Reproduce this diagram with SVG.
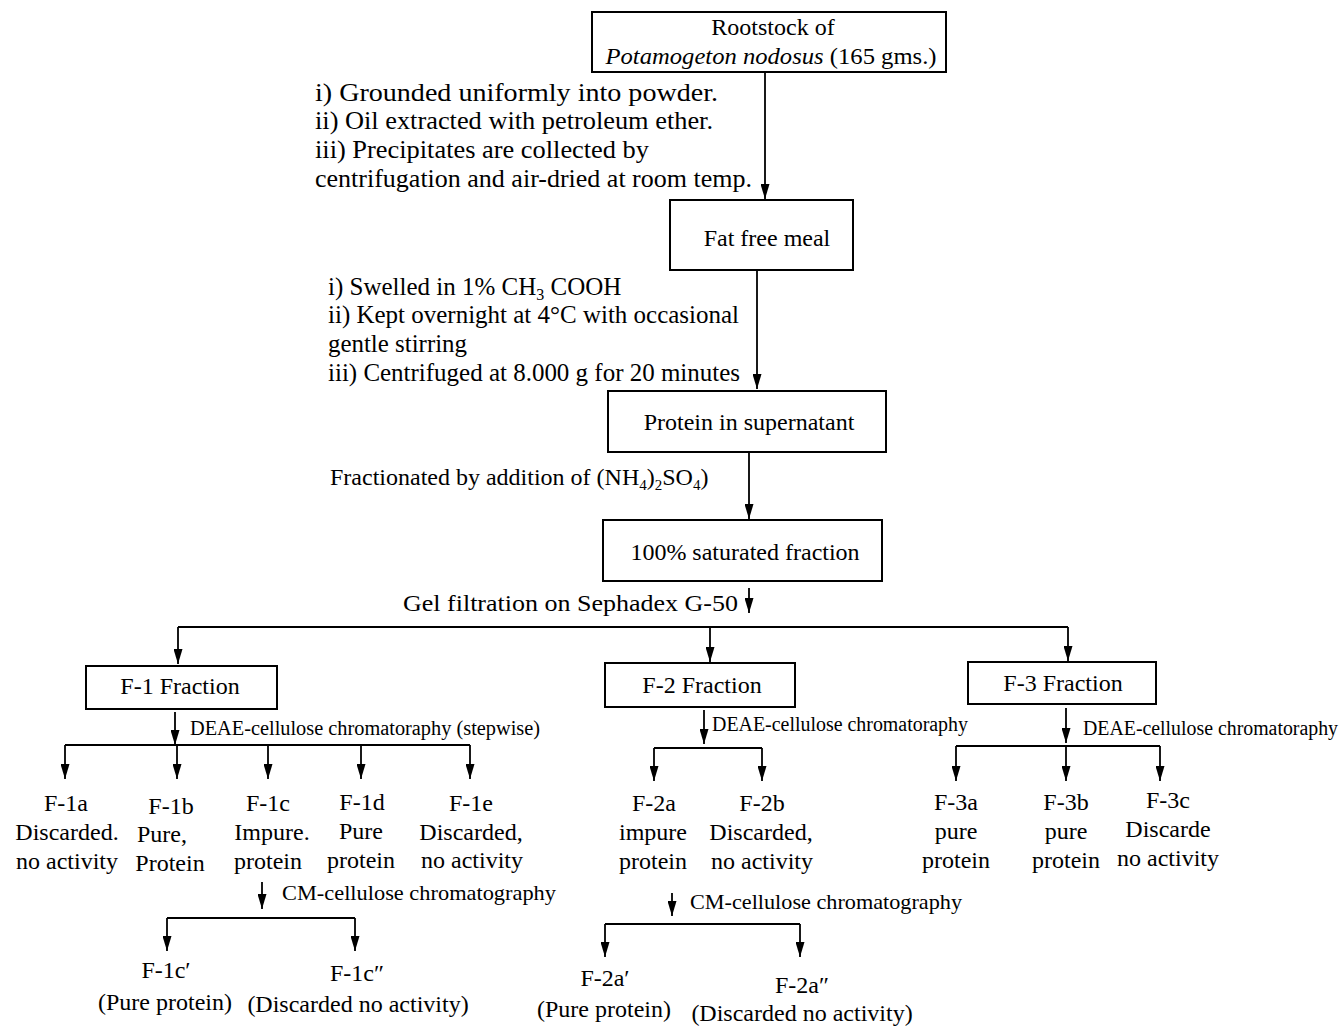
<svg xmlns="http://www.w3.org/2000/svg" width="1344" height="1026" viewBox="0 0 1344 1026">
<style>
text{font-family:"Liberation Serif","Times New Roman",serif;font-size:24px;fill:#000}
.a{font-size:25px}
.s{font-size:20px}
.m{font-size:22px}
.c{text-anchor:middle}
.box{fill:#fff;stroke:#000;stroke-width:2}
.ln{fill:none;stroke:#000;stroke-width:1.8}
.ar{fill:none;stroke:#000;stroke-width:1.8;marker-end:url(#ah)}
</style>
<defs>
<marker id="ah" markerUnits="userSpaceOnUse" markerWidth="15" markerHeight="9" viewBox="0 0 15 9" refX="15" refY="4.5" orient="auto">
<path d="M0,0 L15,4.5 L0,9 z" fill="#000"/>
</marker>
</defs>
<rect width="1344" height="1026" fill="#fff"/>

<g id="connectors">
<line class="ar" x1="765" y1="72" x2="765" y2="199"/>
<line class="ar" x1="757" y1="270" x2="757" y2="389"/>
<line class="ar" x1="749" y1="452" x2="749" y2="519"/>
<line class="ar" x1="749" y1="588" x2="749" y2="613"/>
<line class="ln" x1="178" y1="627" x2="1068" y2="627"/>
<line class="ar" x1="178" y1="627" x2="178" y2="664"/>
<line class="ar" x1="710" y1="627" x2="710" y2="662"/>
<line class="ar" x1="1068" y1="627" x2="1068" y2="661"/>
<line class="ar" x1="175" y1="712" x2="175" y2="745"/>
<line class="ln" x1="65" y1="745" x2="470" y2="745"/>
<line class="ar" x1="65" y1="745" x2="65" y2="779"/>
<line class="ar" x1="177" y1="745" x2="177" y2="779"/>
<line class="ar" x1="268" y1="745" x2="268" y2="779"/>
<line class="ar" x1="361" y1="745" x2="361" y2="779"/>
<line class="ar" x1="470" y1="745" x2="470" y2="779"/>
<line class="ar" x1="704" y1="710" x2="704" y2="744"/>
<line class="ln" x1="654" y1="748" x2="762" y2="748"/>
<line class="ar" x1="654" y1="748" x2="654" y2="781"/>
<line class="ar" x1="762" y1="748" x2="762" y2="781"/>
<line class="ar" x1="1066" y1="708" x2="1066" y2="743"/>
<line class="ln" x1="956" y1="746" x2="1160" y2="746"/>
<line class="ar" x1="956" y1="746" x2="956" y2="781"/>
<line class="ar" x1="1066" y1="746" x2="1066" y2="781"/>
<line class="ar" x1="1160" y1="746" x2="1160" y2="781"/>
<line class="ar" x1="262" y1="882" x2="262" y2="909"/>
<line class="ln" x1="167" y1="918" x2="355" y2="918"/>
<line class="ar" x1="167" y1="918" x2="167" y2="951"/>
<line class="ar" x1="355" y1="918" x2="355" y2="951"/>
<line class="ar" x1="672" y1="893" x2="672" y2="916"/>
<line class="ln" x1="605" y1="924" x2="800" y2="924"/>
<line class="ar" x1="605" y1="924" x2="605" y2="957"/>
<line class="ar" x1="800" y1="924" x2="800" y2="957"/>
</g>

<g id="labels">
<text class="a" x="315" y="101" textLength="403" lengthAdjust="spacingAndGlyphs">i) Grounded uniformly into powder.</text>
<text class="a" x="315" y="129" textLength="398" lengthAdjust="spacingAndGlyphs">ii) Oil extracted with petroleum ether.</text>
<text class="a" x="315" y="158" textLength="334" lengthAdjust="spacingAndGlyphs">iii) Precipitates are collected by</text>
<text class="a" x="315" y="187" textLength="437" lengthAdjust="spacingAndGlyphs">centrifugation and air-dried at room temp.</text>
<text class="a" x="328" y="295">i) Swelled in 1% CH<tspan font-size="16" dy="5">3</tspan><tspan dy="-5"> COOH</tspan></text>
<text class="a" x="328" y="323" textLength="411" lengthAdjust="spacingAndGlyphs">ii) Kept overnight at 4°C with occasional</text>
<text class="a" x="328" y="352" textLength="139" lengthAdjust="spacingAndGlyphs">gentle stirring</text>
<text class="a" x="328" y="381" textLength="412" lengthAdjust="spacingAndGlyphs">iii) Centrifuged at 8.000 g for 20 minutes</text>
<text x="330" y="485">Fractionated by addition of (NH<tspan font-size="15" dy="5">4</tspan><tspan dy="-5">)</tspan><tspan font-size="15" dy="5">2</tspan><tspan dy="-5">SO</tspan><tspan font-size="15" dy="5">4</tspan><tspan dy="-5">)</tspan></text>
<text x="403" y="611" textLength="335" lengthAdjust="spacingAndGlyphs">Gel filtration on Sephadex G-50</text>
<text class="s" x="190" y="735" textLength="350" lengthAdjust="spacingAndGlyphs">DEAE-cellulose chromatoraphy (stepwise)</text>
<text class="s" x="712" y="731" textLength="256" lengthAdjust="spacingAndGlyphs">DEAE-cellulose chromatoraphy</text>
<text class="s" x="1083" y="735" textLength="255" lengthAdjust="spacingAndGlyphs">DEAE-cellulose chromatoraphy</text>
<text class="m" x="282" y="900" textLength="274" lengthAdjust="spacingAndGlyphs">CM-cellulose chromatography</text>
<text class="m" x="690" y="909" textLength="272" lengthAdjust="spacingAndGlyphs">CM-cellulose chromatography</text>
</g>

<g id="n-rootstock">
<rect class="box" x="592" y="12" width="354" height="60"/>
<text class="c" x="773" y="35">Rootstock of</text>
<text class="c" x="771" y="64" textLength="331" lengthAdjust="spacingAndGlyphs"><tspan font-style="italic">Potamogeton nodosus</tspan> (165 gms.)</text>
</g>
<g id="n-fatfree">
<rect class="box" x="670" y="200" width="183" height="70"/>
<text class="c" x="767" y="246">Fat free meal</text>
</g>
<g id="n-protein">
<rect class="box" x="608" y="391" width="278" height="61"/>
<text class="c" x="749" y="430">Protein in supernatant</text>
</g>
<g id="n-saturated">
<rect class="box" x="603" y="520" width="279" height="61"/>
<text class="c" x="745" y="560">100% saturated fraction</text>
</g>
<g id="n-f1">
<rect class="box" x="86" y="666" width="191" height="43"/>
<text class="c" x="180" y="694">F-1 Fraction</text>
</g>
<g id="n-f2">
<rect class="box" x="605" y="663" width="190" height="44"/>
<text class="c" x="702" y="693">F-2 Fraction</text>
</g>
<g id="n-f3">
<rect class="box" x="968" y="662" width="188" height="42"/>
<text class="c" x="1063" y="691">F-3 Fraction</text>
</g>

<g id="n-f1a"><text class="c" x="66" y="811">F-1a</text><text class="c" x="67" y="840">Discarded.</text><text class="c" x="67" y="869">no activity</text></g>
<g id="n-f1b"><text class="c" x="171" y="814">F-1b</text><text class="c" x="162" y="842">Pure,</text><text class="c" x="170" y="871">Protein</text></g>
<g id="n-f1c"><text class="c" x="268" y="811">F-1c</text><text class="c" x="272" y="840">Impure.</text><text class="c" x="268" y="869">protein</text></g>
<g id="n-f1d"><text class="c" x="362" y="810">F-1d</text><text class="c" x="361" y="839">Pure</text><text class="c" x="361" y="868">protein</text></g>
<g id="n-f1e"><text class="c" x="471" y="811">F-1e</text><text class="c" x="471" y="840">Discarded,</text><text class="c" x="472" y="868">no activity</text></g>
<g id="n-f2a"><text class="c" x="654" y="811">F-2a</text><text class="c" x="653" y="840">impure</text><text class="c" x="653" y="869">protein</text></g>
<g id="n-f2b"><text class="c" x="762" y="811">F-2b</text><text class="c" x="761" y="840">Discarded,</text><text class="c" x="762" y="869">no activity</text></g>
<g id="n-f3a"><text class="c" x="956" y="810">F-3a</text><text class="c" x="956" y="839">pure</text><text class="c" x="956" y="868">protein</text></g>
<g id="n-f3b"><text class="c" x="1066" y="810">F-3b</text><text class="c" x="1066" y="839">pure</text><text class="c" x="1066" y="868">protein</text></g>
<g id="n-f3c"><text class="c" x="1168" y="808">F-3c</text><text class="c" x="1168" y="837">Discarde</text><text class="c" x="1168" y="866">no activity</text></g>
<g id="n-f1c1"><text class="c" x="166" y="978">F-1c′</text><text class="c" x="165" y="1010">(Pure protein)</text></g>
<g id="n-f1c2"><text class="c" x="357" y="981">F-1c″</text><text class="c" x="358" y="1012">(Discarded no activity)</text></g>
<g id="n-f2a1"><text class="c" x="605" y="986">F-2a′</text><text class="c" x="604" y="1017">(Pure protein)</text></g>
<g id="n-f2a2"><text class="c" x="802" y="993">F-2a″</text><text class="c" x="802" y="1021">(Discarded no activity)</text></g>
</svg>
